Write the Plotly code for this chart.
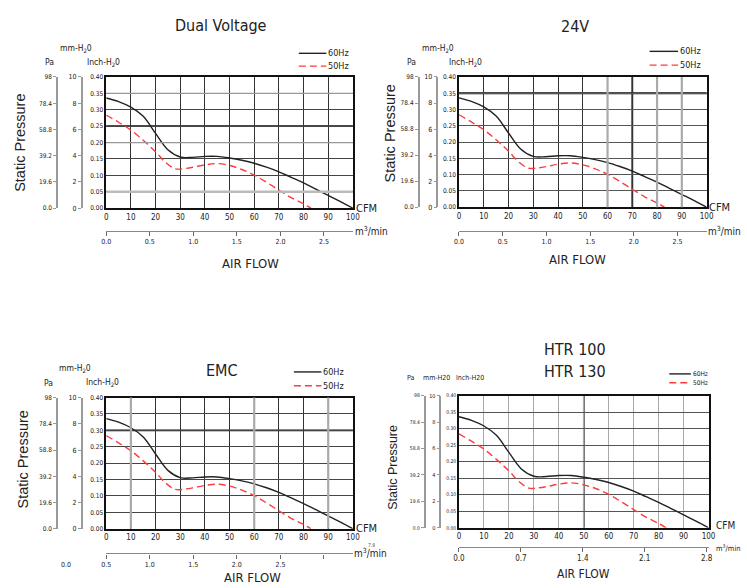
import plotly.graph_objects as go

W, H = 747, 588

# ---------------- data ----------------
cfm_60 = [0, 5, 10, 15, 20, 25, 30, 35, 40, 45, 50, 55, 60, 65, 70, 75, 80, 85, 90, 95, 100]
sp_60 = [0.336, 0.325, 0.308, 0.280, 0.228, 0.178, 0.156, 0.155, 0.158, 0.158, 0.153,
         0.146, 0.137, 0.125, 0.111, 0.094, 0.077, 0.058, 0.039, 0.020, 0.0]
cfm_50 = [0, 5, 10, 15, 20, 24, 28, 32, 36, 40, 45, 50, 55, 60, 65, 70, 75, 80, 83]
sp_50 = [0.284, 0.262, 0.238, 0.207, 0.172, 0.140, 0.120, 0.121, 0.126, 0.132, 0.136,
         0.130, 0.118, 0.101, 0.079, 0.055, 0.032, 0.013, 0.0]

series_names = ["60Hz", "50Hz"]
panel_titles = ["Dual Voltage", "24V", "EMC", "HTR 100<br>HTR 130"]

cfm_ticks = [0, 10, 20, 30, 40, 50, 60, 70, 80, 90, 100]
inch_ticks = [0, 0.05, 0.10, 0.15, 0.20, 0.25, 0.30, 0.35, 0.40]
inch_text = ["0.00", "0.05", "0.10", "0.15", "0.20", "0.25", "0.30", "0.35", "0.40"]
mm_ticks = [0, 2, 4, 6, 8, 10]
pa_ticks = [0, 19.6, 39.2, 58.8, 78.4, 98]
pa_text = ["0.0", "19.6", "39.2", "58.8", "78.4", "98"]
m3_ticks_std = [0, 0.5, 1.0, 1.5, 2.0, 2.5]
m3_text_std = ["0.0", "0.5", "1.0", "1.5", "2.0", "2.5"]
m3_text_emc = ["0.5", "1.0", "1.5", "2.0", "2.5", ""]
m3_ticks_htr = [0, 0.7, 1.4, 2.1, 2.8]
m3_text_htr = ["0.0", "0.7", "1.4", "2.1", "2.8"]

INCH_MAX, MM_MAX, PA_MAX, CFM_MAX = 0.40, 10, 98, 100

# ---------------- layout config (pixels) ----------------
NARROW = "DejaVu Sans Condensed, Liberation Sans Narrow, Arial Narrow, sans-serif"
SANS = "Liberation Sans, Arial, Helvetica, sans-serif"
RED = "#ff3b3b"
DASH = "7px,4px"

panels = [
    dict(x0=102, x1=353, y0=74, y1=207, pa=52, mm=77, m3y=230, m3max=2.832,
         m3v=m3_ticks_std, m3t=m3_text_std, xgrid="#333", ygrid="#444",
         title=[(219, 22)], sp=(14, 141, 14.5), af=(249, 263),
         leg=(298, 326, 50, 63, 9), units="std", uy=(45, 59), ux=(39, 54, 81),
         cfm=(355, 207, 11), m3l=(354, 230, 10), tf=(8, 6.5, 7),
         emph=[("h", 0.25, "#111", 1.8, "below"), ("h", 0.05, "#bbb", 2.5, "above"),
               ("h", 0.35, "#999", 1.2, "above"), ("h", 0.20, "#999", 1.2, "above")]),
    dict(x0=461, x1=713, y0=74, y1=206, pa=420, mm=439, m3y=230, m3max=2.832,
         m3v=m3_ticks_std, m3t=m3_text_std, xgrid="#333", ygrid="#555",
         title=[(579, 23)], sp=(391, 131, 14.5), af=(582, 259),
         leg=(655, 684, 48, 62, 9), units="std", uy=(45, 59), ux=(407, 422, 450),
         cfm=(714, 206, 11), m3l=(713, 230, 10), tf=(8, 6.5, 7),
         emph=[("h", 0.35, "#111", 1.8, "below"), ("v", 70, "#111", 1.8, "below"),
               ("v", 60, "#aaa", 2.2, "above"), ("v", 80, "#aaa", 2.2, "above"),
               ("v", 90, "#aaa", 2.2, "above")]),
    dict(x0=102, x1=353, y0=399, y1=532, pa=52, mm=77, m3y=557, m3max=2.832,
         m3v=m3_ticks_std, m3t=m3_text_emc, xgrid="#333", ygrid="#444",
         title=[(220, 372)], sp=(17, 462, 14.5), af=(251, 581),
         leg=(293, 321, 373, 387, 9), units="std", uy=(370, 384), ux=(38, 53, 80),
         cfm=(355, 532, 11), m3l=(353, 557, 10), tf=(8, 6.5, 7),
         emph=[("h", 0.30, "#111", 1.8, "below"), ("v", 10, "#aaa", 2.2, "above"),
               ("v", 60, "#aaa", 2.2, "above"), ("v", 90, "#aaa", 2.2, "above")]),
    dict(x0=461, x1=715, y0=397, y1=531, pa=426, mm=442, m3y=550, m3max=2.822,
         m3v=m3_ticks_htr, m3t=m3_text_htr, xgrid="#aaa", ygrid="#555",
         title=[(579, 350), (579, 373)], sp=(393, 470, 12.5), af=(588, 578),
         leg=(675, 697, 375, 384, 6.5), units="htr", uy=(379, 379), ux=(407, 423, 457),
         cfm=(722, 529, 10), m3l=(722, 552, 7.5), tf=(8, 5, 8),
         emph=[("v", 50, "#111", 1.6, "below")]),
]


def fx(px):
    return px / W


def fy(py):
    return 1 - py / H


fig = go.Figure()
layout = dict(width=W, height=H, margin=dict(l=0, r=0, t=0, b=0),
              paper_bgcolor="white", plot_bgcolor="white", showlegend=False,
              font=dict(family=NARROW, color="#222"), hovermode=False)
shapes, annos = [], []


def txt(x, y, t, size, anchor="left", family=NARROW, angle=0, color="#222"):
    annos.append(dict(x=fx(x), y=fy(y), xref="paper", yref="paper", text=t, showarrow=False,
                      xanchor=anchor, yanchor="middle", textangle=angle, borderpad=0,
                      font=dict(size=size, family=family, color=color)))


for k, p in enumerate(panels):
    xi, xm = 2 * k + 1, 2 * k + 2
    yi, ymm, ypa = 3 * k + 1, 3 * k + 2, 3 * k + 3
    xn = "x" if xi == 1 else f"x{xi}"
    yn = "y" if yi == 1 else f"y{yi}"
    xk = "xaxis" if xi == 1 else f"xaxis{xi}"
    yk = "yaxis" if yi == 1 else f"yaxis{yi}"
    tf_cfm, tf_y, tf_m3 = p["tf"]

    layout[xk] = dict(domain=[fx(p["x0"]), fx(p["x1"])], anchor=yn, range=[0, CFM_MAX],
                      tickvals=cfm_ticks, showgrid=True, gridcolor=p["xgrid"], gridwidth=1.1,
                      showline=True, mirror=True, linecolor="#111", linewidth=1.5,
                      zeroline=False, ticks="", tickfont=dict(size=tf_cfm, family=NARROW, color="#222"))
    layout[yk] = dict(domain=[fy(p["y1"]), fy(p["y0"])], anchor=xn, range=[0, INCH_MAX],
                      tickvals=inch_ticks, ticktext=inch_text, showgrid=True,
                      gridcolor=p["ygrid"], gridwidth=1.1, showline=True, mirror=True,
                      linecolor="#111", linewidth=1.5, zeroline=False, ticks="",
                      tickfont=dict(size=tf_y, family=NARROW, color="#222"))
    layout[f"xaxis{xm}"] = dict(overlaying=xn, anchor="free", position=fy(p["m3y"]), side="bottom",
                                range=[0, p["m3max"]], tickvals=p["m3v"], ticktext=p["m3t"],
                                showgrid=False, zeroline=False, showline=True, linecolor="#888",
                                linewidth=1.2, ticks="outside", ticklen=4, tickcolor="#666",
                                tickfont=dict(size=tf_m3, family=NARROW, color="#222"))
    layout[f"yaxis{ymm}"] = dict(overlaying=yn, anchor="free", position=fx(p["mm"]), side="left",
                                 range=[0, MM_MAX], tickvals=mm_ticks, showgrid=False,
                                 zeroline=False, showline=True, linecolor="#999", linewidth=1.5,
                                 ticks="outside", ticklen=3, tickcolor="#999",
                                 tickfont=dict(size=tf_y + 0.5, family=NARROW, color="#222"))
    layout[f"yaxis{ypa}"] = dict(overlaying=yn, anchor="free", position=fx(p["pa"]), side="left",
                                 range=[0, PA_MAX], tickvals=pa_ticks, ticktext=pa_text,
                                 showgrid=False, zeroline=False, showline=True, linecolor="#999",
                                 linewidth=1.5, ticks="outside", ticklen=3, tickcolor="#999",
                                 tickfont=dict(size=tf_y, family=NARROW, color="#222"))

    # invisible carriers so the extra axes are drawn
    for xa, ya in [(f"x{xm}", yn), (xn, f"y{ymm}"), (xn, f"y{ypa}")]:
        fig.add_trace(go.Scatter(x=[0], y=[0], xaxis=xa, yaxis=ya, mode="markers",
                                 marker=dict(opacity=0), hoverinfo="skip", showlegend=False))

    # emphasised / faded grid lines (scan artefacts of the original sheet)
    for o, v, c, w, lay in p["emph"]:
        if o == "h":
            shapes.append(dict(type="line", xref=f"{xn} domain", yref=yn, x0=0, x1=1, y0=v, y1=v,
                               line=dict(color=c, width=w), layer=lay))
        else:
            shapes.append(dict(type="line", xref=xn, yref=f"{yn} domain", x0=v, x1=v, y0=0, y1=1,
                               line=dict(color=c, width=w), layer=lay))

    # curves
    fig.add_trace(go.Scatter(x=cfm_60, y=sp_60, xaxis=xn, yaxis=yn, mode="lines",
                             name=series_names[0], line=dict(color="#222", width=1.4, shape="spline",
                                                             smoothing=1.0)))
    fig.add_trace(go.Scatter(x=cfm_50, y=sp_50, xaxis=xn, yaxis=yn, mode="lines",
                             name=series_names[1], line=dict(color=RED, width=1.4, shape="spline",
                                                             smoothing=1.0, dash=DASH)))

    # legend keys
    lx0, lx1, ly60, ly50, lfs = p["leg"]
    shapes.append(dict(type="line", xref="paper", yref="paper", x0=fx(lx0), x1=fx(lx1),
                       y0=fy(ly60), y1=fy(ly60), line=dict(color="#222", width=1.4)))
    shapes.append(dict(type="line", xref="paper", yref="paper", x0=fx(lx0), x1=fx(lx1),
                       y0=fy(ly50), y1=fy(ly50), line=dict(color=RED, width=1.4, dash=DASH)))
    txt(lx1 + 1, ly60, series_names[0], lfs)
    txt(lx1 + 1, ly50, series_names[1], lfs)

    # title (one annotation per line)
    for line_text, (tx, ty) in zip(panel_titles[k].split("<br>"), p["title"]):
        txt(tx, ty, line_text, 16, anchor="center")
    # static pressure
    sx, sy, sfs = p["sp"]
    txt(sx, sy, "Static Pressure", sfs, anchor="center", family=SANS, angle=-90)
    # air flow
    ax_, ay_ = p["af"]
    txt(ax_, ay_, "AIR FLOW", 13 if k < 3 else 12, anchor="center")
    # CFM, m3/min
    cx, cy, cfs = p["cfm"]
    txt(cx, cy, "CFM", cfs)
    mx, my, mfs = p["m3l"]
    txt(mx, my, "m<sup>3</sup>/min", mfs)
    # unit labels
    uy1, uy2 = p["uy"]
    pax, mmx, inx = p["ux"]
    if p["units"] == "std":
        items = [("mm-H<sub>2</sub>0", mmx, uy1), ("Pa", pax, uy2), ("Inch-H<sub>2</sub>0", inx, uy2)]
        ufs = 8.5
    else:
        items = [("Pa", pax, uy2), ("mm-H20", mmx, uy1), ("Inch-H20", inx, uy1)]
        ufs = 7
    for t, ux, uy in items:
        txt(ux, uy, t, ufs)

# stray labels in the EMC panel
txt(61, 569, "0.0", 7, anchor="center")
txt(372, 548, "7.8", 5, anchor="center", color="#444")

layout["shapes"] = shapes
layout["annotations"] = annos
fig.update_layout(**layout)
fig.write_html("out.html", config={"displayModeBar": False},
               post_script="document.body.style.margin='0';document.body.style.padding='0';")
